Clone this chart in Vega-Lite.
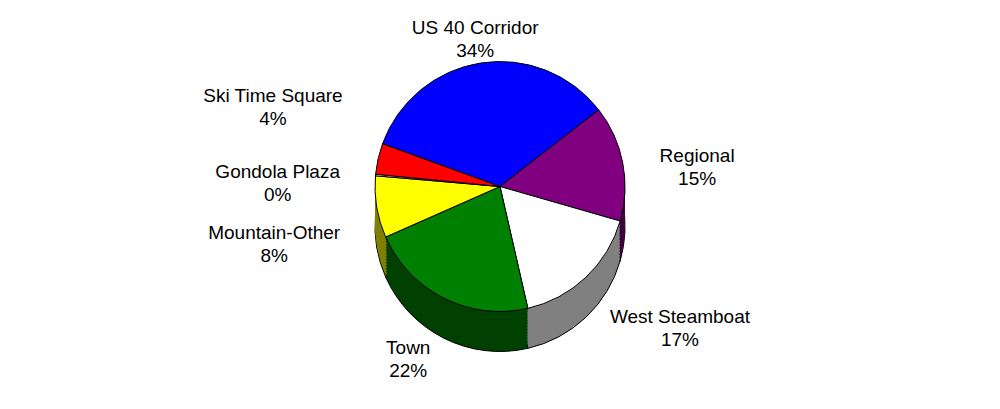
{
  "$schema": "https://vega.github.io/schema/vega-lite/v6.json",
  "width": 1000,
  "height": 409,
  "padding": 0,
  "autosize": {"type": "fit", "contains": "padding"},
  "background": "white",
  "config": {"view": {"stroke": null}},
  "data": {
    "values": [
      {"k": 1, "region": "US 40 Corridor", "share": 0.34},
      {"k": 2, "region": "Regional", "share": 0.15},
      {"k": 3, "region": "West Steamboat", "share": 0.17},
      {"k": 4, "region": "Town", "share": 0.22},
      {"k": 5, "region": "Mountain-Other", "share": 0.08},
      {"k": 6, "region": "Gondola Plaza", "share": 0.002},
      {"k": 7, "region": "Ski Time Square", "share": 0.04}
    ]
  },
  "encoding": {
    "theta": {"field": "share", "type": "quantitative", "stack": true, "scale": {"range": [-1.2217, 5.0615]}},
    "order": {"field": "k", "type": "quantitative"}
  },
  "layer": [
    {"mark": {"type": "arc", "outerRadius": 125, "yOffset": 22, "stroke": "black", "strokeWidth": 1}, "encoding": {"fill": {"field": "region", "type": "nominal", "legend": null, "scale": {"domain": ["US 40 Corridor", "Regional", "West Steamboat", "Town", "Mountain-Other", "Gondola Plaza", "Ski Time Square"], "range": ["#000080", "#400040", "#808080", "#004000", "#808000", "#808080", "#800000"]}}}},
    {"mark": {"type": "arc", "outerRadius": 125, "yOffset": 19}, "encoding": {"fill": {"field": "region", "type": "nominal", "legend": null}}},
    {"mark": {"type": "arc", "outerRadius": 125, "yOffset": 16}, "encoding": {"fill": {"field": "region", "type": "nominal", "legend": null}}},
    {"mark": {"type": "arc", "outerRadius": 125, "yOffset": 13}, "encoding": {"fill": {"field": "region", "type": "nominal", "legend": null}}},
    {"mark": {"type": "arc", "outerRadius": 125, "yOffset": 10}, "encoding": {"fill": {"field": "region", "type": "nominal", "legend": null}}},
    {"mark": {"type": "arc", "outerRadius": 125, "yOffset": 7}, "encoding": {"fill": {"field": "region", "type": "nominal", "legend": null}}},
    {"mark": {"type": "arc", "outerRadius": 125, "yOffset": 4}, "encoding": {"fill": {"field": "region", "type": "nominal", "legend": null}}},
    {"mark": {"type": "arc", "outerRadius": 125, "yOffset": 1}, "encoding": {"fill": {"field": "region", "type": "nominal", "legend": null}}},
    {"mark": {"type": "arc", "outerRadius": 125, "yOffset": -2}, "encoding": {"fill": {"field": "region", "type": "nominal", "legend": null}}},
    {"mark": {"type": "arc", "outerRadius": 125, "yOffset": -5}, "encoding": {"fill": {"field": "region", "type": "nominal", "legend": null}}},
    {"mark": {"type": "arc", "outerRadius": 125, "yOffset": -8}, "encoding": {"fill": {"field": "region", "type": "nominal", "legend": null}}},
    {"mark": {"type": "arc", "outerRadius": 125, "yOffset": -11}, "encoding": {"fill": {"field": "region", "type": "nominal", "legend": null}}},
    {"mark": {"type": "arc", "outerRadius": 125, "yOffset": -14}, "encoding": {"fill": {"field": "region", "type": "nominal", "legend": null}}},
    {"mark": {"type": "arc", "outerRadius": 125, "yOffset": -16}, "encoding": {"fill": {"field": "region", "type": "nominal", "legend": null}}},
    {"mark": {"type": "arc", "outerRadius": 125, "yOffset": -18, "stroke": "black", "strokeWidth": 1}, "encoding": {"color": {"field": "region", "type": "nominal", "legend": null, "scale": {"domain": ["US 40 Corridor", "Regional", "West Steamboat", "Town", "Mountain-Other", "Gondola Plaza", "Ski Time Square"], "range": ["#0000FF", "#800080", "#FFFFFF", "#008000", "#FFFF00", "#FFFFFF", "#FF0000"]}}}},
    {
      "mark": {
        "type": "text",
        "radius": 160,
        "yOffset": -18,
        "font": "Liberation Sans",
        "fontSize": 19,
        "lineHeight": 23,
        "color": "black",
        "baseline": "middle",
        "align": "center",
        "dx": {"expr": "datum.region === 'Regional' ? 40 : (datum.region === 'West Steamboat' ? 70 : (datum.region === 'Town' ? -20 : (datum.region === 'Mountain-Other' ? -68 : (datum.region === 'Gondola Plaza' ? -63 : (datum.region === 'Ski Time Square' ? -71 : 0)))))"},
        "dy": {"expr": "datum.region === 'Ski Time Square' ? -55 : (datum.region === 'Mountain-Other' ? 20 : (datum.region === 'Town' ? 18 : (datum.region === 'West Steamboat' ? 14 : 0)))"},
        "text": {"expr": "[datum.region, format(datum.share, '.0%')]"}
      },
      "encoding": {"detail": {"field": "region", "type": "nominal"}}
    }
  ]
}
